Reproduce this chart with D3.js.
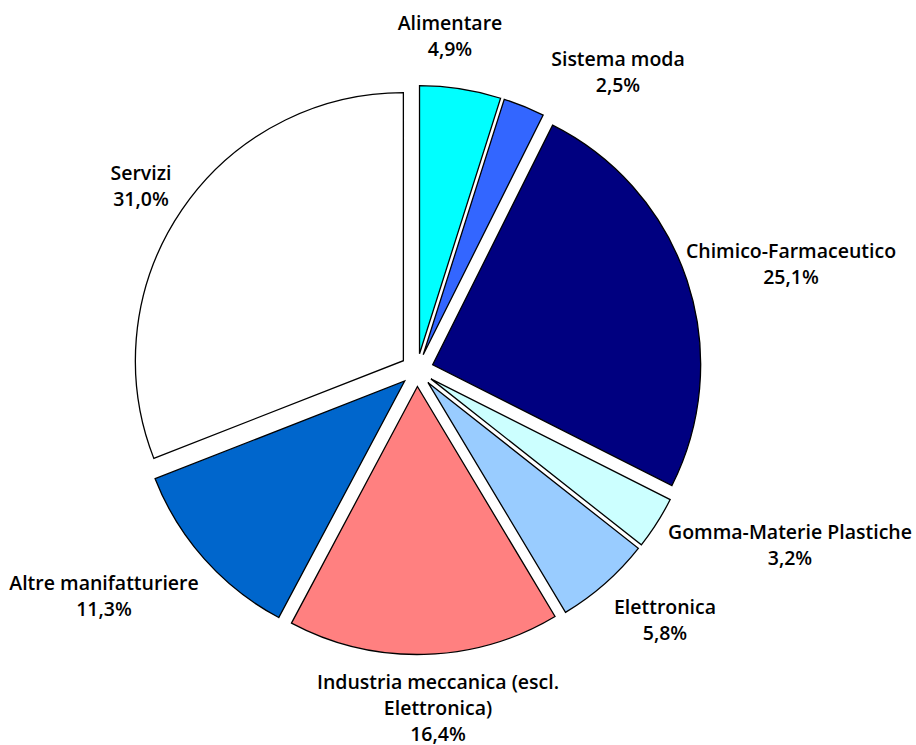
<!DOCTYPE html>
<html>
<head>
<meta charset="utf-8">
<script src="https://cdn.jsdelivr.net/npm/d3@7/dist/d3.min.js"></script>
<style>
  html, body { margin: 0; padding: 0; background: #fff; }
  svg { display: block; }
  text { font-family: "Open Sans", Lato, sans-serif; font-size: 19.5px; font-weight: 600; fill: #000; }
</style>
</head>
<body>
<script>
// Sector shares (%), drawn clockwise from 12 o'clock
const sectors = [
  "Alimentare",
  "Sistema moda",
  "Chimico-Farmaceutico",
  "Gomma-Materie Plastiche",
  "Elettronica",
  "Industria meccanica (escl. Elettronica)",
  "Altre manifatturiere",
  "Servizi"
];
const shares = [4.9, 2.5, 25.1, 3.2, 5.8, 16.4, 11.3, 31.0];
const labelLines = [
  ["Alimentare"],
  ["Sistema moda"],
  ["Chimico-Farmaceutico"],
  ["Gomma-Materie Plastiche"],
  ["Elettronica"],
  ["Industria meccanica (escl.", "Elettronica)"],
  ["Altre manifatturiere"],
  ["Servizi"]
];
const fills = ["#00FFFF", "#3366FF", "#000080", "#CCFFFF", "#99CCFF", "#FF8080", "#0066CC", "#FFFFFF"];

// Layout
const W = 916, H = 745;
const cx = 417, cy = 370, R = 268, explode = 16.5;
// Label block centres (x, y of first line)
const labelAt = [
  [450, 22], [618, 58], [791, 250], [790, 531],
  [665, 606], [438, 681], [104, 582], [141, 172]
];
const lineH = 26;

const fmt = v => v.toFixed(1).replace(".", ",") + "%";

const svg = d3.select("body").append("svg").attr("width", W).attr("height", H);

const pie = d3.pie().sort(null).value(d => d.v);
const arcs = pie(shares.map((v, i) => ({ v, i })));
const arc = d3.arc().innerRadius(0).outerRadius(R);

const g = svg.append("g").attr("transform", `translate(${cx},${cy})`);

g.selectAll("path")
  .data(arcs)
  .join("path")
  .attr("d", arc)
  .attr("transform", d => {
    const a = (d.startAngle + d.endAngle) / 2;
    return `translate(${explode * Math.sin(a)},${-explode * Math.cos(a)})`;
  })
  .attr("fill", d => fills[d.data.i])
  .attr("stroke", "#000")
  .attr("stroke-width", 1.3)
  .attr("stroke-linejoin", "miter");

const labels = svg.append("g");
arcs.forEach((d, i) => {
  const [lx, ly] = labelAt[i];
  const lines = labelLines[i].concat([fmt(shares[i])]);
  const t = labels.append("text")
    .attr("text-anchor", "middle")
    .attr("dominant-baseline", "central");
  lines.forEach((s, k) => {
    t.append("tspan").attr("x", lx).attr("y", ly + k * lineH).text(s);
  });
});
</script>
</body>
</html>
